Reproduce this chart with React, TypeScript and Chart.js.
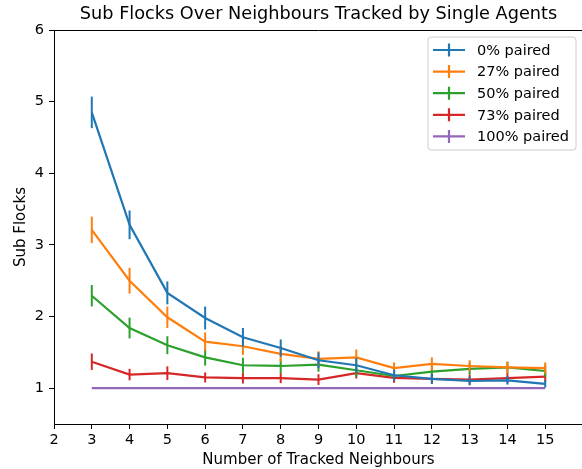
import React, { useEffect, useRef } from "react";
import { Chart, registerables } from "chart.js";

Chart.register(...registerables);

const neighbours = [3, 4, 5, 6, 7, 8, 9, 10, 11, 12, 13, 14, 15];
const seriesLabels = ["0% paired", "27% paired", "50% paired", "73% paired", "100% paired"];
const seriesColors = ["#1f77b4", "#ff7f0e", "#2ca02c", "#d62728", "#9467bd"];

const paired0 = [4.85, 3.28, 2.33, 1.98, 1.71, 1.56, 1.39, 1.32, 1.18, 1.13, 1.1, 1.11, 1.06];
const paired0Err = [0.22, 0.2, 0.16, 0.16, 0.13, 0.12, 0.11, 0.1, 0.08, 0.07, 0.06, 0.06, 0.05];
const paired27 = [3.21, 2.5, 1.99, 1.65, 1.585, 1.48, 1.41, 1.43, 1.28, 1.34, 1.31, 1.29, 1.28];
const paired27Err = [0.185, 0.18, 0.15, 0.13, 0.12, 0.11, 0.105, 0.11, 0.08, 0.09, 0.08, 0.08, 0.08];
const paired50 = [2.29, 1.84, 1.6, 1.43, 1.32, 1.31, 1.33, 1.25, 1.17, 1.23, 1.27, 1.29, 1.24];
const paired50Err = [0.15, 0.145, 0.125, 0.115, 0.105, 0.1, 0.1, 0.09, 0.07, 0.08, 0.08, 0.08, 0.08];
const paired73 = [1.37, 1.19, 1.21, 1.15, 1.14, 1.14, 1.12, 1.21, 1.145, 1.13, 1.12, 1.14, 1.16];
const paired73Err = [0.115, 0.08, 0.095, 0.07, 0.075, 0.07, 0.075, 0.075, 0.07, 0.07, 0.07, 0.07, 0.07];
const paired100 = [1, 1, 1, 1, 1, 1, 1, 1, 1, 1, 1, 1, 1];
const paired100Err = [0, 0, 0, 0, 0, 0, 0, 0, 0, 0, 0, 0, 0];

const xTicks = [2, 3, 4, 5, 6, 7, 8, 9, 10, 11, 12, 13, 14, 15];
const yTicks = [1, 2, 3, 4, 5, 6];

const titleText = "Sub Flocks Over Neighbours Tracked by Single Agents";
const xTitle = "Number of Tracked Neighbours";
const yTitle = "Sub Flocks";

const FONT = "'DejaVu Sans', sans-serif";

const allValues = [paired0, paired27, paired50, paired73, paired100];
const allErrors = [paired0Err, paired27Err, paired50Err, paired73Err, paired100Err];

const errorBarPlugin = {
  id: "errorBars",
  afterDatasetDraw(chart: any, args: any) {
    const i = args.index;
    const ds = chart.data.datasets[i];
    const errs = ds.errors as number[];
    const xs = chart.scales.x;
    const ys = chart.scales.y;
    const ctx = chart.ctx;
    ctx.save();
    ctx.strokeStyle = ds.borderColor;
    ctx.lineWidth = 2;
    ds.data.forEach((p: any, j: number) => {
      const e = errs[j];
      if (!e) return;
      const px = xs.getPixelForValue(p.x);
      ctx.beginPath();
      ctx.moveTo(px, ys.getPixelForValue(p.y - e));
      ctx.lineTo(px, ys.getPixelForValue(p.y + e));
      ctx.stroke();
    });
    ctx.restore();
  },
};

const framePlugin = {
  id: "frameAndText",
  afterDraw(chart: any) {
    const ctx = chart.ctx;
    const ca = chart.chartArea;
    ctx.save();
    // top spine
    ctx.strokeStyle = "#000";
    ctx.lineWidth = 1;
    ctx.beginPath();
    ctx.moveTo(ca.left, ca.top + 0.5);
    ctx.lineTo(ca.right, ca.top + 0.5);
    ctx.stroke();
    // title
    ctx.fillStyle = "#000";
    ctx.font = `17.7px ${FONT}`;
    ctx.textAlign = "center";
    ctx.textBaseline = "middle";
    ctx.fillText(titleText, (ca.left + ca.right) / 2, 14);
    // legend
    const bx = 428, by = 37, bw = 148, bh = 113, r = 3;
    ctx.beginPath();
    ctx.moveTo(bx + r, by);
    ctx.lineTo(bx + bw - r, by);
    ctx.arcTo(bx + bw, by, bx + bw, by + r, r);
    ctx.lineTo(bx + bw, by + bh - r);
    ctx.arcTo(bx + bw, by + bh, bx + bw - r, by + bh, r);
    ctx.lineTo(bx + r, by + bh);
    ctx.arcTo(bx, by + bh, bx, by + bh - r, r);
    ctx.lineTo(bx, by + r);
    ctx.arcTo(bx, by, bx + r, by, r);
    ctx.closePath();
    ctx.fillStyle = "rgba(255,255,255,0.8)";
    ctx.fill();
    ctx.strokeStyle = "#cccccc";
    ctx.lineWidth = 1;
    ctx.stroke();
    ctx.font = `14.5px ${FONT}`;
    ctx.textAlign = "left";
    ctx.textBaseline = "middle";
    seriesLabels.forEach((lab, k) => {
      const cy = 50 + k * 21.6;
      ctx.strokeStyle = seriesColors[k];
      ctx.lineWidth = 2.2;
      ctx.beginPath();
      ctx.moveTo(433, cy);
      ctx.lineTo(465, cy);
      ctx.moveTo(449, cy - 6.5);
      ctx.lineTo(449, cy + 6.5);
      ctx.stroke();
      ctx.fillStyle = "#000";
      ctx.fillText(lab, 477, cy + 1);
    });
    ctx.restore();
  },
};

export default function App() {
  const ref = useRef<HTMLCanvasElement | null>(null);
  useEffect(() => {
    if (!ref.current) return;
    const datasets = allValues.map((vals, k) => ({
      label: seriesLabels[k],
      data: neighbours.map((n, j) => ({ x: n, y: vals[j] })),
      errors: allErrors[k],
      borderColor: seriesColors[k],
      backgroundColor: seriesColors[k],
      borderWidth: 2.2,
      pointRadius: 0,
      tension: 0,
      fill: false,
    }));
    const chart = new Chart(ref.current, {
      type: "line",
      data: { datasets: datasets as any },
      plugins: [errorBarPlugin, framePlugin],
      options: {
        animation: false,
        responsive: false,
        devicePixelRatio: 1,
        layout: { padding: { top: 30, right: 17, left: 0, bottom: 0 } },
        plugins: { legend: { display: false }, tooltip: { enabled: false }, title: { display: false } },
        scales: {
          x: {
            type: "linear",
            min: 2,
            max: 16,
            afterBuildTicks: (s: any) => {
              s.ticks = xTicks.map((v) => ({ value: v }));
            },
            afterFit: (s: any) => {
              s.height = 45;
            },
            grid: { display: true, drawOnChartArea: false, drawTicks: true, tickLength: 5, color: "#000", tickWidth: 1 },
            border: { display: true, color: "#000", width: 1 },
            ticks: { color: "#000", font: { family: FONT, size: 14.5 }, padding: 3, maxRotation: 0, autoSkip: false },
            title: { display: true, text: xTitle, color: "#000", font: { family: FONT, size: 15 }, padding: { top: 0, bottom: 0 } },
          },
          y: {
            type: "linear",
            min: 0.5,
            max: 6,
            afterBuildTicks: (s: any) => {
              s.ticks = yTicks.map((v) => ({ value: v }));
            },
            afterFit: (s: any) => {
              s.width = 54;
            },
            grid: { display: true, drawOnChartArea: false, drawTicks: true, tickLength: 5, color: "#000", tickWidth: 1 },
            border: { display: true, color: "#000", width: 1 },
            ticks: { color: "#000", font: { family: FONT, size: 14.5 }, padding: 5, autoSkip: false },
            title: { display: true, text: yTitle, color: "#000", font: { family: FONT, size: 15 }, padding: { top: 12, bottom: 0 } },
          },
        },
      },
    });
    return () => chart.destroy();
  }, []);
  return (
    <div style={{ position: "fixed", left: 0, top: 0, width: 582, height: 469, overflow: "hidden", background: "#fff" }}>
      <canvas ref={ref} width={600} height={469} style={{ display: "block" }} />
    </div>
  );
}
